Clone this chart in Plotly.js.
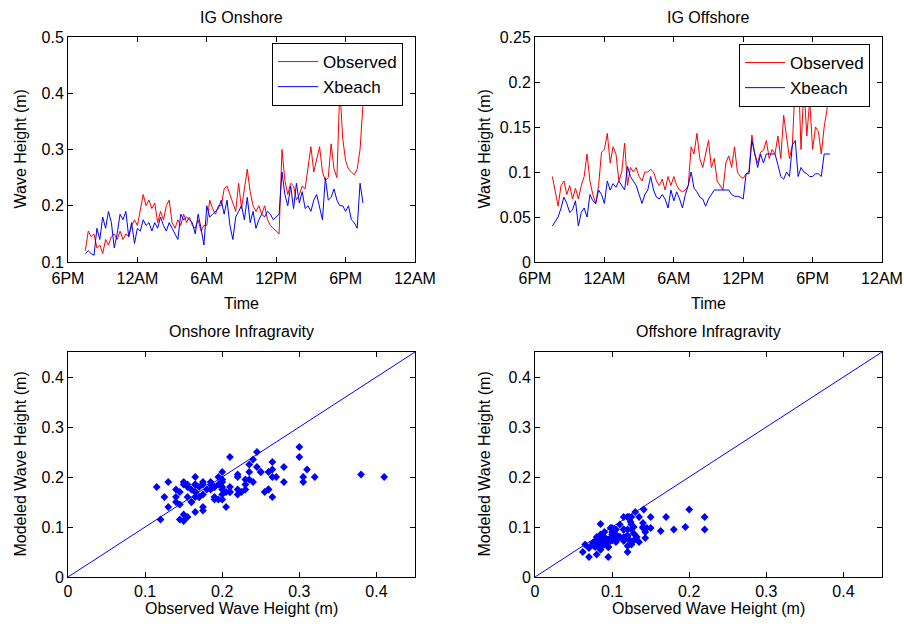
<!DOCTYPE html>
<html>
<head>
<meta charset="utf-8">
<script src="https://cdn.plot.ly/plotly-3.0.1.min.js"></script>
<style>html,body{margin:0;padding:0;background:#fff;}#chart{width:904px;height:632px;}</style>
</head>
<body>
<div id="chart"></div>
<script>
// ---------- data ----------
var startTime = '2000-01-01 19:30';      // first sample (about 7:30 PM)
var sampleMinutes = 15;                  // sampling interval

var onshoreObserved = [0.12,0.155,0.145,0.15,0.125,0.13,0.115,0.14,0.13,0.145,
  0.15,0.14,0.155,0.14,0.15,0.145,0.165,0.175,0.165,0.19,
  0.22,0.2,0.21,0.195,0.205,0.17,0.19,0.175,0.2,0.21,
  0.17,0.16,0.175,0.165,0.185,0.17,0.18,0.165,0.16,0.175,
  0.155,0.165,0.165,0.21,0.195,0.185,0.2,0.2,0.23,0.235,
  0.22,0.205,0.19,0.24,0.195,0.23,0.265,0.225,0.2,0.19,
  0.2,0.185,0.2,0.175,0.165,0.16,0.155,0.15,0.3,0.245,
  0.22,0.24,0.235,0.21,0.22,0.235,0.23,0.27,0.305,0.26,
  0.28,0.305,0.26,0.245,0.25,0.31,0.265,0.25,0.41,0.32,
  0.28,0.265,0.26,0.255,0.265,0.3,0.38];
var onshoreXbeach = [0.115,0.12,0.115,0.112,0.16,0.14,0.18,0.16,0.19,0.17,
  0.125,0.15,0.185,0.175,0.19,0.145,0.17,0.133,0.16,0.155,
  0.175,0.165,0.17,0.155,0.17,0.16,0.18,0.165,0.155,0.17,
  0.16,0.15,0.14,0.185,0.175,0.18,0.175,0.17,0.15,0.185,
  0.16,0.13,0.2,0.18,0.185,0.19,0.195,0.21,0.185,0.21,
  0.165,0.14,0.18,0.19,0.2,0.175,0.215,0.17,0.19,0.16,
  0.175,0.185,0.18,0.19,0.185,0.175,0.18,0.185,0.26,0.22,
  0.2,0.235,0.195,0.24,0.205,0.225,0.195,0.2,0.19,0.21,
  0.22,0.2,0.175,0.25,0.21,0.215,0.23,0.21,0.2,0.2,
  0.19,0.2,0.175,0.17,0.16,0.24,0.205];
var offshoreObserved = [0.095,0.08,0.062,0.085,0.09,0.075,0.085,0.07,0.082,0.07,
  0.085,0.095,0.12,0.09,0.075,0.065,0.085,0.122,0.125,0.143,
  0.11,0.128,0.12,0.09,0.1,0.132,0.085,0.105,0.1,0.105,
  0.095,0.09,0.1,0.1,0.103,0.1,0.09,0.085,0.092,0.08,
  0.095,0.085,0.095,0.085,0.08,0.078,0.08,0.085,0.128,0.12,
  0.143,0.115,0.105,0.12,0.135,0.105,0.115,0.09,0.085,0.08,
  0.11,0.118,0.105,0.128,0.1,0.095,0.093,0.098,0.1,0.141,
  0.12,0.11,0.122,0.124,0.135,0.115,0.125,0.12,0.14,0.115,
  0.163,0.14,0.115,0.13,0.2,0.22,0.125,0.195,0.14,0.18,
  0.125,0.15,0.145,0.12,0.15,0.17,0.22];
var offshoreXbeach = [0.04,0.045,0.05,0.06,0.072,0.065,0.055,0.058,0.068,0.04,
  0.055,0.06,0.05,0.075,0.068,0.065,0.08,0.075,0.065,0.09,
  0.08,0.087,0.083,0.09,0.085,0.08,0.106,0.095,0.09,0.085,
  0.075,0.065,0.075,0.08,0.095,0.08,0.072,0.07,0.075,0.07,
  0.06,0.08,0.068,0.078,0.07,0.06,0.075,0.085,0.1,0.082,
  0.078,0.072,0.07,0.062,0.07,0.075,0.08,0.08,0.08,0.08,
  0.08,0.08,0.075,0.073,0.073,0.072,0.07,0.098,0.098,0.135,
  0.12,0.105,0.12,0.11,0.12,0.12,0.12,0.12,0.108,0.095,
  0.092,0.1,0.095,0.13,0.135,0.095,0.105,0.1,0.098,0.095,
  0.095,0.098,0.098,0.095,0.12,0.12,0.12];

var timeTickVals = ['2000-01-01 18:00','2000-01-02 00:00','2000-01-02 06:00',
                    '2000-01-02 12:00','2000-01-02 18:00','2000-01-03 00:00'];
var timeTickText = ['6PM','12AM','6AM','12PM','6PM','12AM'];
var oneToOne = [0, 0.45];
var seriesNames = ['Observed', 'Xbeach'];

// time stamps of the samples
function pad(n){return (n<10?'0':'')+n;}
var times = [];
var t0 = new Date(startTime.replace(' ','T')+':00');
for (var i = 0; i < onshoreObserved.length; i++) {
  var d = new Date(t0.getTime() + i*sampleMinutes*60000);
  times.push(d.getFullYear()+'-'+pad(d.getMonth()+1)+'-'+pad(d.getDate())+' '+pad(d.getHours())+':'+pad(d.getMinutes()));
}

// ---------- layout helpers ----------
var W = 904, H = 632;
var FONT = 'Liberation Sans, Arial, sans-serif';
function px(x){return x/W;}
function py(y){return 1 - y/H;}
function axisBase(extra){
  var a = {showline:true, mirror:'ticks', linecolor:'#000', linewidth:1,
    ticks:'inside', ticklen:5, tickcolor:'#000', showgrid:false, zeroline:false,
    tickfont:{family:FONT, size:16, color:'#000'}, fixedrange:true};
  for (var k in extra) a[k] = extra[k];
  return a;
}
var red = '#ff0000', blue = '#0000ff';

var traces = [
  {x:times, y:onshoreObserved, type:'scatter', mode:'lines', name:seriesNames[0], line:{color:red, width:1}, xaxis:'x', yaxis:'y', legend:'legend'},
  {x:times, y:onshoreXbeach, type:'scatter', mode:'lines', name:seriesNames[1], line:{color:blue, width:1}, xaxis:'x', yaxis:'y', legend:'legend'},
  {x:times, y:offshoreObserved, type:'scatter', mode:'lines', name:seriesNames[0], line:{color:red, width:1}, xaxis:'x2', yaxis:'y2', legend:'legend2'},
  {x:times, y:offshoreXbeach, type:'scatter', mode:'lines', name:seriesNames[1], line:{color:blue, width:1}, xaxis:'x2', yaxis:'y2', legend:'legend2'},
  {x:oneToOne, y:oneToOne, type:'scatter', mode:'lines', line:{color:blue, width:1}, xaxis:'x3', yaxis:'y3', showlegend:false},
  {x:onshoreObserved, y:onshoreXbeach, type:'scatter', mode:'markers', marker:{symbol:'diamond', size:6, color:blue}, xaxis:'x3', yaxis:'y3', showlegend:false},
  {x:oneToOne, y:oneToOne, type:'scatter', mode:'lines', line:{color:blue, width:1}, xaxis:'x4', yaxis:'y4', showlegend:false},
  {x:offshoreObserved, y:offshoreXbeach, type:'scatter', mode:'markers', marker:{symbol:'diamond', size:6, color:blue}, xaxis:'x4', yaxis:'y4', showlegend:false}
];

var L1 = 68, R1 = 415, L2 = 535, R2 = 882;
var T1 = 37, B1 = 262, T2 = 352, B2 = 577;
var timeRange = [timeTickVals[0], timeTickVals[5]];

function ann(text, x, y, angle){
  return {text:text, xref:'paper', yref:'paper', x:px(x), y:py(y), xanchor:'center', yanchor:'middle',
          showarrow:false, textangle:angle||0, font:{family:FONT, size:16, color:'#000'}};
}
function legendBox(x, y){
  return {x:px(x), y:py(y), xanchor:'left', yanchor:'top', bgcolor:'#fff', bordercolor:'#000', borderwidth:1,
          font:{family:FONT, size:17, color:'#000'}, itemwidth:40, tracegroupgap:0};
}

var layout = {
  width:W, height:H, margin:{l:0, r:0, t:0, b:0}, paper_bgcolor:'#fff', plot_bgcolor:'#fff',
  showlegend:true,
  xaxis: axisBase({domain:[px(L1), px(R1)], anchor:'y', type:'date', range:timeRange, tickmode:'array', tickvals:timeTickVals, ticktext:timeTickText, ticklabelstandoff:2}),
  yaxis: axisBase({domain:[py(B1), py(T1)], anchor:'x', range:[0.1, 0.5], dtick:0.1, tick0:0.1}),
  xaxis2: axisBase({domain:[px(L2), px(R2)], anchor:'y2', type:'date', range:timeRange, tickmode:'array', tickvals:timeTickVals, ticktext:timeTickText, ticklabelstandoff:2}),
  yaxis2: axisBase({domain:[py(B1), py(T1)], anchor:'x2', range:[0, 0.25], dtick:0.05}),
  xaxis3: axisBase({domain:[px(L1), px(R1)], anchor:'y3', range:[0, 0.45], dtick:0.1}),
  yaxis3: axisBase({domain:[py(B2), py(T2)], anchor:'x3', range:[0, 0.45], dtick:0.1}),
  xaxis4: axisBase({domain:[px(L2), px(R2)], anchor:'y4', range:[0, 0.45], dtick:0.1}),
  yaxis4: axisBase({domain:[py(B2), py(T2)], anchor:'x4', range:[0, 0.45], dtick:0.1}),
  legend: legendBox(272, 43),
  legend2: legendBox(739, 44),
  annotations: [
    ann('IG Onshore', (L1+R1)/2, 17),
    ann('IG Offshore', (L2+R2)/2, 17),
    ann('Time', (L1+R1)/2, 303),
    ann('Time', (L2+R2)/2, 303),
    ann('Wave Height (m)', 20, (T1+B1)/2, -90),
    ann('Wave Height (m)', 484, (T1+B1)/2, -90),
    ann('Onshore Infragravity', (L1+R1)/2, 331),
    ann('Offshore Infragravity', (L2+R2)/2, 331),
    ann('Observed Wave Height (m)', (L1+R1)/2, 608),
    ann('Observed Wave Height (m)', (L2+R2)/2, 608),
    ann('Modeled Wave Height (m)', 20, (T2+B2)/2, -90),
    ann('Modeled Wave Height (m)', 484, (T2+B2)/2, -90)
  ]
};

Plotly.newPlot('chart', traces, layout, {staticPlot:true, displayModeBar:false});
</script>
</body>
</html>
